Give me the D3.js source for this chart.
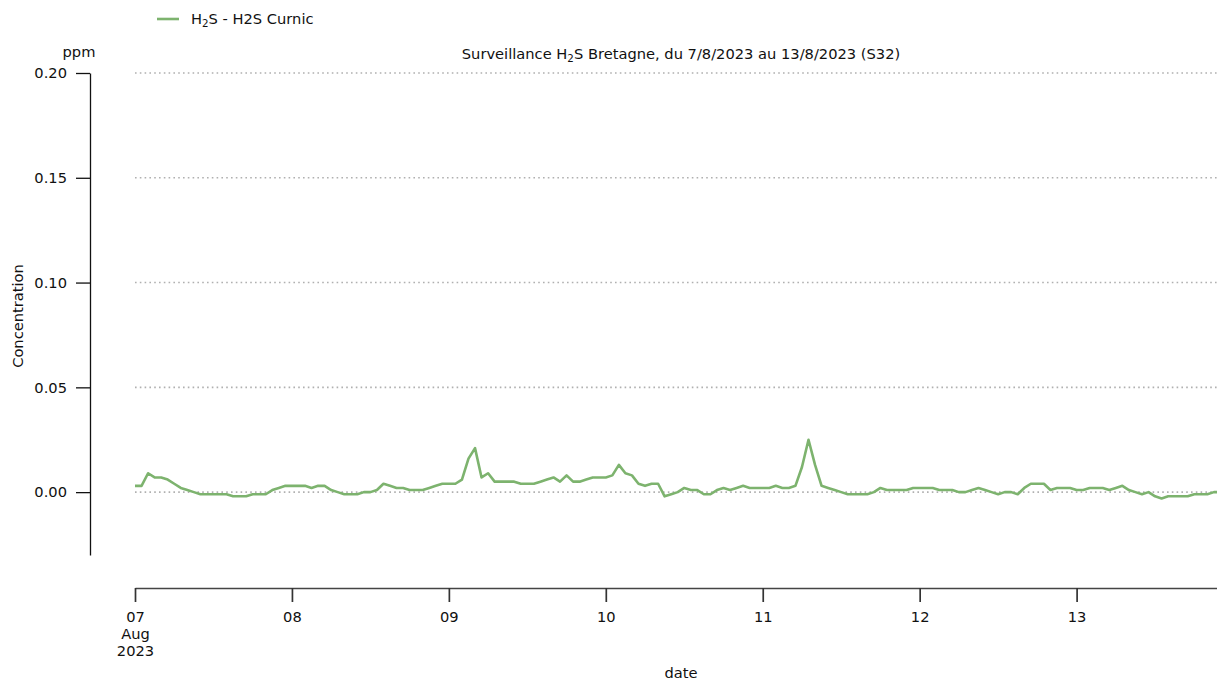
<!DOCTYPE html>
<html>
<head>
<meta charset="utf-8">
<script src="https://cdn.jsdelivr.net/npm/d3@7"></script>
<style>
  html, body { margin: 0; padding: 0; background: #fff; overflow: hidden; }
  text { font-family: "DejaVu Sans", sans-serif; fill: #111; }
</style>
</head>
<body>
<svg id="chart" width="1217" height="681"></svg>
<script>
// ---- data (hourly H2S, ppm) ----
const startDate = [2023, 7, 7]; // 7 Aug 2023 00:00
const seriesName = "H2S Curnic";
const values = [
  0.003, 0.003, 0.009, 0.007, 0.007, 0.006, 0.004, 0.002, 0.001, 0.000, -0.001, -0.001,
  -0.001, -0.001, -0.001, -0.002, -0.002, -0.002, -0.001, -0.001, -0.001, 0.001, 0.002, 0.003,
  0.003, 0.003, 0.003, 0.002, 0.003, 0.003, 0.001, 0.000, -0.001, -0.001, -0.001, 0.000,
  0.000, 0.001, 0.004, 0.003, 0.002, 0.002, 0.001, 0.001, 0.001, 0.002, 0.003, 0.004,
  0.004, 0.004, 0.006, 0.016, 0.021, 0.007, 0.009, 0.005, 0.005, 0.005, 0.005, 0.004,
  0.004, 0.004, 0.005, 0.006, 0.007, 0.005, 0.008, 0.005, 0.005, 0.006, 0.007, 0.007,
  0.007, 0.008, 0.013, 0.009, 0.008, 0.004, 0.003, 0.004, 0.004, -0.002, -0.001, 0.000,
  0.002, 0.001, 0.001, -0.001, -0.001, 0.001, 0.002, 0.001, 0.002, 0.003, 0.002, 0.002,
  0.002, 0.002, 0.003, 0.002, 0.002, 0.003, 0.012, 0.025, 0.013, 0.003, 0.002, 0.001,
  0.000, -0.001, -0.001, -0.001, -0.001, 0.000, 0.002, 0.001, 0.001, 0.001, 0.001, 0.002,
  0.002, 0.002, 0.002, 0.001, 0.001, 0.001, 0.000, 0.000, 0.001, 0.002, 0.001, 0.000,
  -0.001, 0.000, 0.000, -0.001, 0.002, 0.004, 0.004, 0.004, 0.001, 0.002, 0.002, 0.002,
  0.001, 0.001, 0.002, 0.002, 0.002, 0.001, 0.002, 0.003, 0.001, 0.000, -0.001, 0.000,
  -0.002, -0.003, -0.002, -0.002, -0.002, -0.002, -0.001, -0.001, -0.001, 0.000, 0.000, 0.000
];
const yTicks = [0.00, 0.05, 0.10, 0.15, 0.20];
const yDomain = [-0.03, 0.20];
const xTickDays = [7, 8, 9, 10, 11, 12, 13];
const xTickLabels = [["07", "Aug", "2023"], ["08"], ["09"], ["10"], ["11"], ["12"], ["13"]];

const data = values.map((v, i) => ({
  t: new Date(Date.UTC(startDate[0], startDate[1], startDate[2], i)),
  v: v
}));

// ---- layout ----
const svg = d3.select("#chart");
const plotLeft = 135, plotRight = 1227, plotTop = 73, plotBottom = 555;
const color = "#7db36e";
const fs = 14.67;

const x = d3.scaleUtc()
  .domain(d3.extent(data, d => d.t))
  .range([plotLeft, plotRight]);
const y = d3.scaleLinear().domain(yDomain).range([plotBottom, plotTop]);

// grid
svg.append("g").selectAll("line").data(yTicks).join("line")
  .attr("x1", plotLeft).attr("x2", plotRight)
  .attr("y1", d => y(d)).attr("y2", d => y(d))
  .attr("stroke", "#b0b0b0").attr("stroke-width", 1.6)
  .attr("stroke-dasharray", "1.6,3.2");

// y axis
const yAxis = svg.append("g").attr("transform", "translate(90,0)")
  .call(d3.axisLeft(y).tickValues(yTicks).tickFormat(d3.format(".2f"))
    .tickSize(14).tickSizeOuter(0).tickPadding(9));
yAxis.select(".domain").attr("stroke", "#111").attr("stroke-width", 1.3);
yAxis.selectAll(".tick line").attr("stroke", "#111").attr("stroke-width", 1.3);
yAxis.selectAll(".tick text").attr("font-size", fs).attr("font-family", "DejaVu Sans").attr("fill", "#111");

// x axis
const xTickDates = xTickDays.map(d => new Date(Date.UTC(startDate[0], startDate[1], d)));
const xAxis = svg.append("g").attr("transform", "translate(0,588)")
  .call(d3.axisBottom(x).tickValues(xTickDates).tickFormat(() => "")
    .tickSize(14).tickSizeOuter(0).tickPadding(10));
xAxis.select(".domain").attr("stroke", "#444").attr("stroke-width", 1.7);
xAxis.selectAll(".tick line").attr("stroke", "#333").attr("stroke-width", 1.7);
xAxis.selectAll(".tick text").each(function(d, i) {
  const t = d3.select(this).attr("font-size", fs).attr("font-family", "DejaVu Sans").attr("fill", "#111");
  xTickLabels[i].forEach((s, k) => {
    t.append("tspan").attr("x", 0).attr("dy", k === 0 ? "0.71em" : "1.13em").text(s);
  });
});

// line
svg.append("path").datum(data)
  .attr("fill", "none").attr("stroke", color).attr("stroke-width", 2.6)
  .attr("stroke-linejoin", "round")
  .attr("d", d3.line().x(d => x(d.t)).y(d => y(d.v)));

// labels
svg.append("text").attr("x", 681).attr("y", 678)
  .attr("text-anchor", "middle").attr("font-size", fs).text("date");
svg.append("text").attr("transform", "translate(23,316) rotate(-90)")
  .attr("text-anchor", "middle").attr("font-size", fs).text("Concentration");
svg.append("text").attr("x", 79).attr("y", 57)
  .attr("text-anchor", "middle").attr("font-size", fs).text("ppm");

function h2s(sel) {
  sel.append("tspan").text("H");
  sel.append("tspan").attr("font-size", 10.3).attr("dy", 3).text("2");
  sel.append("tspan").attr("dy", -3).text("S");
}
const title = svg.append("text").attr("x", 681).attr("y", 59)
  .attr("text-anchor", "middle").attr("font-size", fs);
title.append("tspan").text("Surveillance ");
h2s(title);
title.append("tspan").text(" Bretagne, du 7/8/2023 au 13/8/2023 (S32)");

// legend
svg.append("line").attr("x1", 157).attr("x2", 179).attr("y1", 19).attr("y2", 19)
  .attr("stroke", color).attr("stroke-width", 2.6);
const leg = svg.append("text").attr("x", 191).attr("y", 24).attr("font-size", fs);
h2s(leg);
leg.append("tspan").text(" - " + seriesName);
</script>
</body>
</html>
